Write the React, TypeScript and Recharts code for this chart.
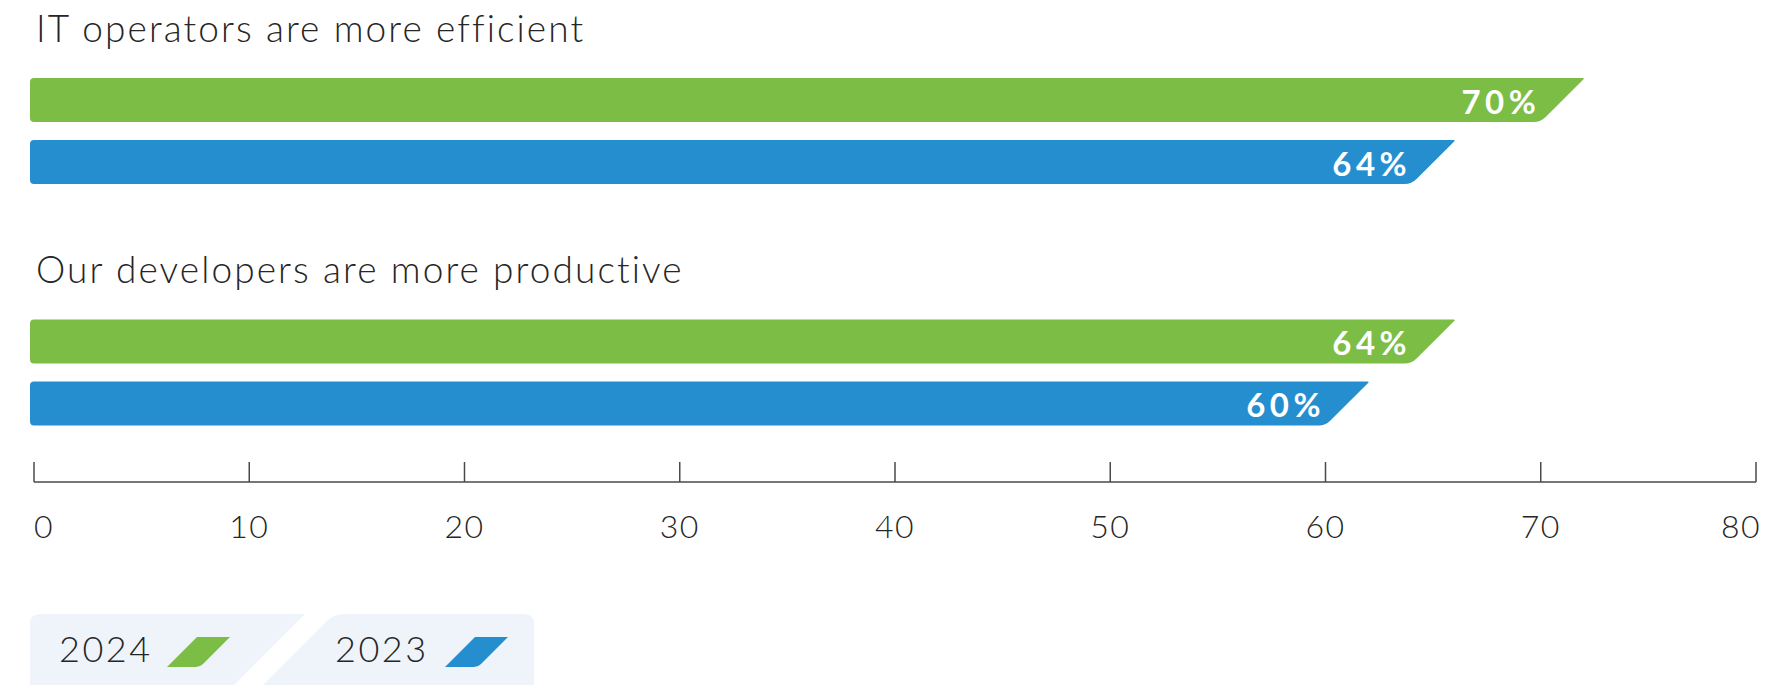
import React from 'react';
import { BarChart, Bar, XAxis, YAxis, LabelList } from 'recharts';

// Survey categories and the share of respondents per year
const categories = ['IT operators are more efficient', 'Our developers are more productive'];
const series2024 = [70, 64];
const series2023 = [64, 60];
const seriesNames = ['2024', '2023'];
const seriesKeys = ['v2024', 'v2023'];
const seriesColors = ['#7BBD45', '#258ECF'];
const xTicks = [0, 10, 20, 30, 40, 50, 60, 70, 80];

const data = categories.map((name, i) => ({
  name,
  v2024: series2024[i],
  v2023: series2023[i],
}));

const W = 1766;
const H = 685;
const FONT = 'Lato, "Open Sans", sans-serif';
const TEXT = '#262626';
const AXIS = '#4a4a4a';

// Bar with rounded left end and a 45° cut on the right; the value sits at the bottom-right corner
function SlantBar(props: any) {
  const { x, y, width, height, fill } = props;
  if (width == null || height == null || !(width > 0)) return null;
  const r = 4;
  const c = 7;
  const x0 = x - 4;
  const xb = x + width;
  const xt = xb + height;
  const yb = y + height;
  const k = c * 0.7071;
  const d = [
    `M${x0 + r},${y}`,
    `L${xt - 2},${y}`,
    `Q${xt},${y} ${xt - 1.2},${y + 1.2}`,
    `L${xb + k},${yb - k}`,
    `Q${xb},${yb} ${xb - c},${yb}`,
    `L${x0 + r},${yb}`,
    `Q${x0},${yb} ${x0},${yb - r}`,
    `L${x0},${y + r}`,
    `Q${x0},${y} ${x0 + r},${y}`,
    'Z',
  ].join(' ');
  return <path d={d} fill={fill} />;
}

function ValueLabel(props: any) {
  const vb = props.viewBox && props.viewBox.width != null ? props.viewBox : props;
  const { x, y, width, height } = vb;
  const { value } = props;
  if (x == null || width == null) return null;
  return (
    <text
      x={x + width - 0.5}
      y={y + height - 8.5}
      textAnchor="end"
      fill="#ffffff"
      fontFamily={FONT}
      fontWeight={700}
      fontSize={33}
      letterSpacing={4.5}
    >
      {`${value}%`}
    </text>
  );
}

function CategoryTick(props: any) {
  const { x, y, payload } = props;
  return (
    <text
      x={x + 2}
      y={y - 89}
      textAnchor="start"
      fill={TEXT}
      fontFamily={FONT}
      fontWeight={300}
      fontSize={37}
      letterSpacing={2.1}
    >
      {payload.value}
    </text>
  );
}

function ValueTick(props: any) {
  const { x, y, payload } = props;
  const v = payload.value;
  const first = v === xTicks[0];
  const last = v === xTicks[xTicks.length - 1];
  return (
    <g>
      <line x1={x} x2={x} y1={y} y2={y - 20} stroke={AXIS} strokeWidth={1.5} />
      <text
        x={last ? x + 5 : x}
        y={y + 56}
        textAnchor={first ? 'start' : last ? 'end' : 'middle'}
        fill={TEXT}
        fontFamily={FONT}
        fontWeight={300}
        fontSize={32}
        letterSpacing={1.5}
      >
        {v}
      </text>
    </g>
  );
}

// Two tab-shaped legend chips, each with the year and a slanted swatch
function YearLegend() {
  const top = 614;
  const bottom = 690;
  const tabs = [
    { d: `M30,${bottom} L30,${top + 10} Q30,${top} 40,${top} L305,${top} L${305 - (bottom - top)},${bottom} Z`, textX: 59, swX: 167 },
    {
      d: `M${334 - (bottom - top)},${bottom} L${327},${top + 7} Q${334},${top} ${344},${top} L524,${top} Q534,${top} 534,${top + 10} L534,${bottom} Z`,
      textX: 335,
      swX: 445,
    },
  ];
  return (
    <svg width={W} height={H} style={{ position: 'absolute', left: 0, top: 0, pointerEvents: 'none' }}>
      {seriesNames.map((name, i) => {
        const t = tabs[i];
        const sy = 637;
        const sh = 30;
        const sw = 33;
        const sx = t.swX;
        const swatch = `M${sx},${sy + sh} L${sx + sw - 4},${sy + sh} Q${sx + sw},${sy + sh} ${sx + sw + 3},${sy + sh - 3} L${sx + sw + sh},${sy} L${sx + sh},${sy} Z`;
        return (
          <g key={name}>
            <path d={t.d} fill="#EEF4F9" />
            <text x={t.textX} y={662} fill={TEXT} fontFamily={FONT} fontWeight={300} fontSize={36} letterSpacing={2.5}>
              {name}
            </text>
            <path d={swatch} fill={seriesColors[i]} />
          </g>
        );
      })}
    </svg>
  );
}

export default function App() {
  return (
    <div style={{ position: 'absolute', left: 0, top: 0, width: W, height: H, background: '#ffffff' }}>
      <BarChart
        width={W}
        height={H}
        data={data}
        layout="vertical"
        margin={{ top: 10, right: 10, left: 33, bottom: 143 }}
        barSize={44}
        barGap={18}
      >
        <XAxis
          type="number"
          domain={[0, 80]}
          ticks={xTicks}
          interval={0}
          height={60}
          axisLine={{ stroke: AXIS, strokeWidth: 1.5 }}
          tickLine={false}
          tickSize={0}
          tickMargin={0}
          tick={<ValueTick />}
        />
        <YAxis
          type="category"
          dataKey="name"
          width={1}
          interval={0}
          axisLine={false}
          tickLine={false}
          tickSize={0}
          tickMargin={0}
          padding={{ top: 0, bottom: -11 }}
          tick={<CategoryTick />}
        />
        {seriesKeys.map((key, i) => (
          <Bar
            key={key}
            dataKey={key}
            name={seriesNames[i]}
            fill={seriesColors[i]}
            shape={<SlantBar />}
            isAnimationActive={false}
          >
            <LabelList dataKey={key} content={<ValueLabel />} />
          </Bar>
        ))}
      </BarChart>
      <YearLegend />
    </div>
  );
}
